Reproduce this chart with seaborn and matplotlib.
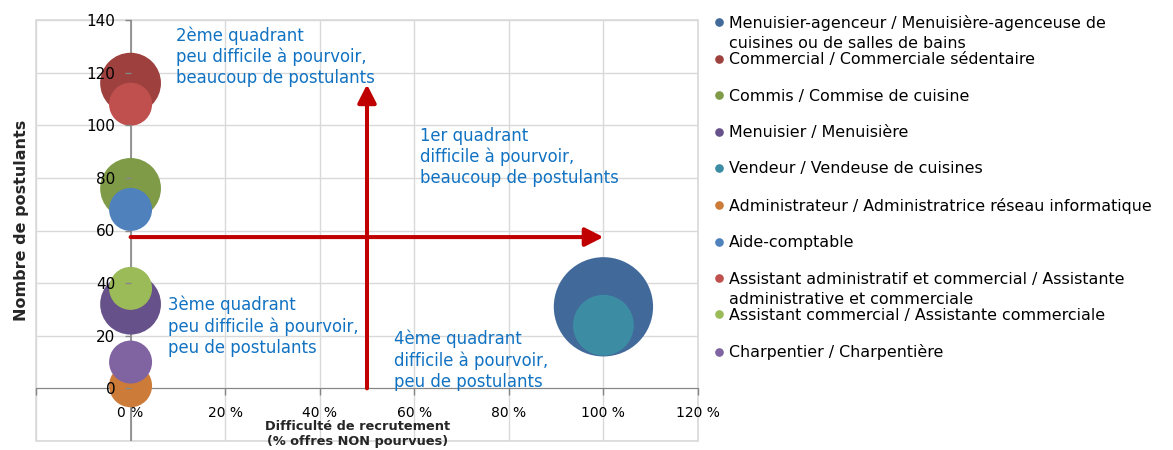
import matplotlib
matplotlib.use("Agg")
import matplotlib.pyplot as plt
from matplotlib.lines import Line2D
from matplotlib.text import Text
from matplotlib.legend_handler import HandlerLine2D
import seaborn as sns
import pandas as pd

jobs = [
    "Menuisier-agenceur / Menuisière-agenceuse de\ncuisines ou de salles de bains",
    "Commercial / Commerciale sédentaire",
    "Commis / Commise de cuisine",
    "Menuisier / Menuisière",
    "Vendeur / Vendeuse de cuisines",
    "Administrateur / Administratrice réseau informatique",
    "Aide-comptable",
    "Assistant administratif et commercial / Assistante\nadministrative et commerciale",
    "Assistant commercial / Assistante commerciale",
    "Charpentier / Charpentière",
]
difficulte = [100, 0, 0, 0, 100, 0, 0, 0, 0, 0]
postulants = [31, 116, 76, 32, 24, 1, 68, 108, 38, 10]
offres = [16, 6, 6, 6, 6, 3, 3, 3, 3, 3]
colors = ["#416A9B", "#9E413E", "#7F9B48", "#67518A", "#3C8DA3",
          "#CC7B38", "#4F81BD", "#C0504D", "#9BBB59", "#8064A2"]

x_ticks = [-20, 0, 20, 40, 60, 80, 100, 120]
x_labels = ["", "0 %", "20 %", "40 %", "60 %", "80 %", "100 %", "120 %"]
y_ticks = [0, 20, 40, 60, 80, 100, 120, 140]

quadrants = [
    (9.6, 126.0, "2ème quadrant\npeu difficile à pourvoir,\nbeaucoup de postulants"),
    (61.2, 88.0, "1er quadrant\ndifficile à pourvoir,\nbeaucoup de postulants"),
    (8.0, 23.6, "3ème quadrant\npeu difficile à pourvoir,\npeu de postulants"),
    (55.8, 10.6, "4ème quadrant\ndifficile à pourvoir,\npeu de postulants"),
]

df = pd.DataFrame({"job": jobs, "x": difficulte, "y": postulants, "n": offres})

sns.set_style("white")
plt.rcParams["font.family"] = ["DejaVu Sans"]

fig = plt.figure(figsize=(11.73, 4.5), dpi=100)
ax = fig.add_axes([36 / 1173, 1 - 441 / 450, 662 / 1173, 421 / 450])

sns.scatterplot(data=df, x="x", y="y", hue="job", palette=colors,
                size="n", sizes=(958, 5110), size_norm=(3, 16),
                linewidth=0, alpha=1, legend=False, ax=ax, zorder=2)

ax.set_xlim(-20, 120)
ax.set_ylim(-20, 140)
ax.set_xticks(x_ticks)
ax.set_xticklabels(x_labels)
ax.set_yticks(y_ticks)
ax.tick_params(axis="y", labelsize=11, labelcolor="black", direction="out", length=4,
               width=1, color="#868686", left=True, pad=7)
ax.tick_params(axis="x", labelsize=10, labelcolor="black", direction="out", length=5,
               width=1, color="#868686", bottom=True, pad=8)
ax.yaxis.set_zorder(5)

# grid
for v in x_ticks:
    ax.axvline(v, color="#D9D9D9", lw=1, zorder=0)
for v in [-20] + y_ticks:
    ax.axhline(v, color="#D9D9D9", lw=1, zorder=0)
# vertical axis line at x = 0 (behind bubbles)
ax.axvline(0, color="#868686", lw=1.2, zorder=1)

for s in ["top", "right"]:
    ax.spines[s].set_visible(False)
ax.spines["left"].set_position(("data", 0))
ax.spines["left"].set_visible(False)
ax.spines["bottom"].set_position(("data", 0))
ax.spines["bottom"].set_color("#868686")
ax.spines["bottom"].set_zorder(1)
ax.patch.set_edgecolor("#D9D9D9")
ax.patch.set_linewidth(1.2)

ax.set_xlabel("")
ax.set_ylabel("")

# arrows
arrow_kw = dict(arrowstyle="-|>,head_length=0.55,head_width=0.28", color="#C00000",
                lw=2.9, shrinkA=0, shrinkB=0, mutation_scale=20)
ax.annotate("", xy=(100, 57.5), xytext=(0, 57.5), arrowprops=arrow_kw, zorder=3)
ax.annotate("", xy=(50, 115.5), xytext=(50, 0), arrowprops=arrow_kw, zorder=3)

for qx, qy, txt in quadrants:
    ax.text(qx, qy, txt, color="#1172C2", fontsize=11.9, va="center", ha="left",
            linespacing=1.21, zorder=4)

fig.text(22 / 1173, 1 - 220 / 450, "Nombre de postulants", rotation=90,
         fontsize=11.5, fontweight="bold", ha="center", va="center")
fig.text(358 / 1173, 1 - 434 / 450, "Difficulté de recrutement\n(% offres NON pourvues)",
         fontsize=9.3, fontweight="bold", ha="center", va="center", linespacing=1.2)


class WrapHandler(HandlerLine2D):
    """Marker aligned with the first line; continuation line drawn underneath."""

    def __init__(self, second, pitch, **kw):
        super().__init__(**kw)
        self.second = second
        self.pitch = pitch

    def create_artists(self, legend, orig_handle, xdescent, ydescent, width,
                       height, fontsize, trans):
        arts = super().create_artists(legend, orig_handle, xdescent, ydescent,
                                      width, height, fontsize, trans)
        if self.second:
            t = Text(x=width - xdescent + legend.handletextpad * fontsize,
                     y=-ydescent - self.pitch * fontsize, text=self.second,
                     ha="left", va="baseline", fontsize=fontsize, color="black",
                     transform=trans)
            arts.append(t)
        return arts


leg_fs = 11.4
handles, labels, hmap = [], [], {}
for job, c in zip(jobs, colors):
    first, _, second = job.partition("\n")
    h = Line2D([], [], marker="o", linestyle="", markersize=5.2, color=c)
    handles.append(h)
    labels.append(first)
    hmap[h] = WrapHandler(second, 1.27)

fig.legend(handles, labels, handler_map=hmap, loc="upper left",
           bbox_to_anchor=(714 / 1173, 1 - 15 / 450),
           frameon=False, fontsize=leg_fs, handlelength=0.6, handletextpad=0.35,
           labelspacing=1.35, borderaxespad=0, borderpad=0, labelcolor="black")

fig.savefig("out.png", dpi=100)
